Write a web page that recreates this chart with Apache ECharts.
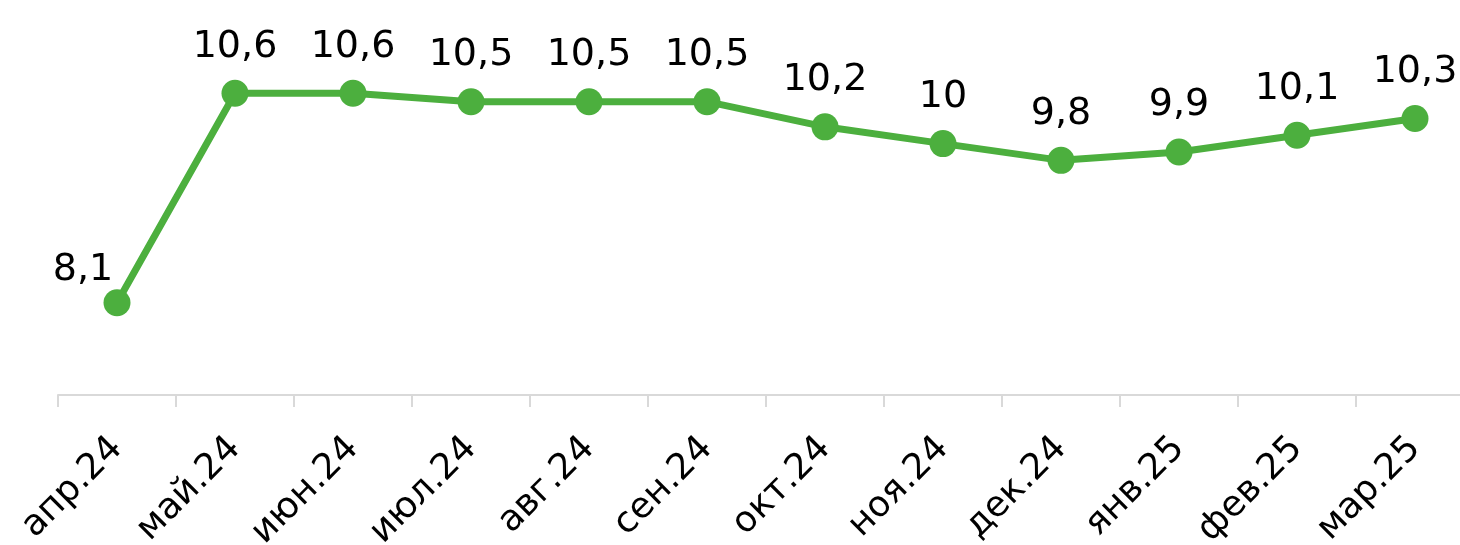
<!DOCTYPE html>
<html>
<head>
<meta charset="utf-8">
<script src="https://cdn.jsdelivr.net/npm/echarts@6/dist/echarts.min.js"></script>
<style>html,body{margin:0;padding:0;background:#fff}#c{width:1460px;height:545px}</style>
</head>
<body>
<div id="c"></div>
<script>
const categories = ['апр.24','май.24','июн.24','июл.24','авг.24','сен.24','окт.24','ноя.24','дек.24','янв.25','фев.25','мар.25'];
const values = [8.1, 10.6, 10.6, 10.5, 10.5, 10.5, 10.2, 10, 9.8, 9.9, 10.1, 10.3];

const chart = echarts.init(document.getElementById('c'), null, {renderer: 'canvas'});
const FONT = 'DejaVu Sans';
const seriesData = values.map((v, i) => {
  if (i === 0) return {value: v, label: {offset: [-34, 14]}};
  return v;
});
chart.setOption({
  animation: false,
  grid: {left: 58, right: -14, top: -24, bottom: 150, containLabel: false, outerBoundsMode: 'none'},
  xAxis: {
    type: 'category',
    data: categories,
    boundaryGap: true,
    axisLine: {lineStyle: {color: '#d9d9d9', width: 2}},
    axisTick: {show: true, length: 12, alignWithLabel: false, lineStyle: {color: '#d9d9d9', width: 2}},
    axisLabel: {rotate: 45, margin: 48, color: '#000', fontFamily: FONT, fontSize: 36, interval: 0}
  },
  yAxis: {
    type: 'value', min: 7, max: 12,
    show: false,
    splitLine: {show: false}
  },
  series: [{
    type: 'line',
    data: seriesData,
    symbol: 'circle',
    symbolSize: 27,
    lineStyle: {color: '#4caf3e', width: 7},
    itemStyle: {color: '#4caf3e'},
    label: {
      show: true, position: 'top', distance: 14,
      color: '#000', fontFamily: FONT, fontSize: 38,
      formatter: p => String(p.value).replace('.', ',')
    }
  }]
});
</script>
</body>
</html>
